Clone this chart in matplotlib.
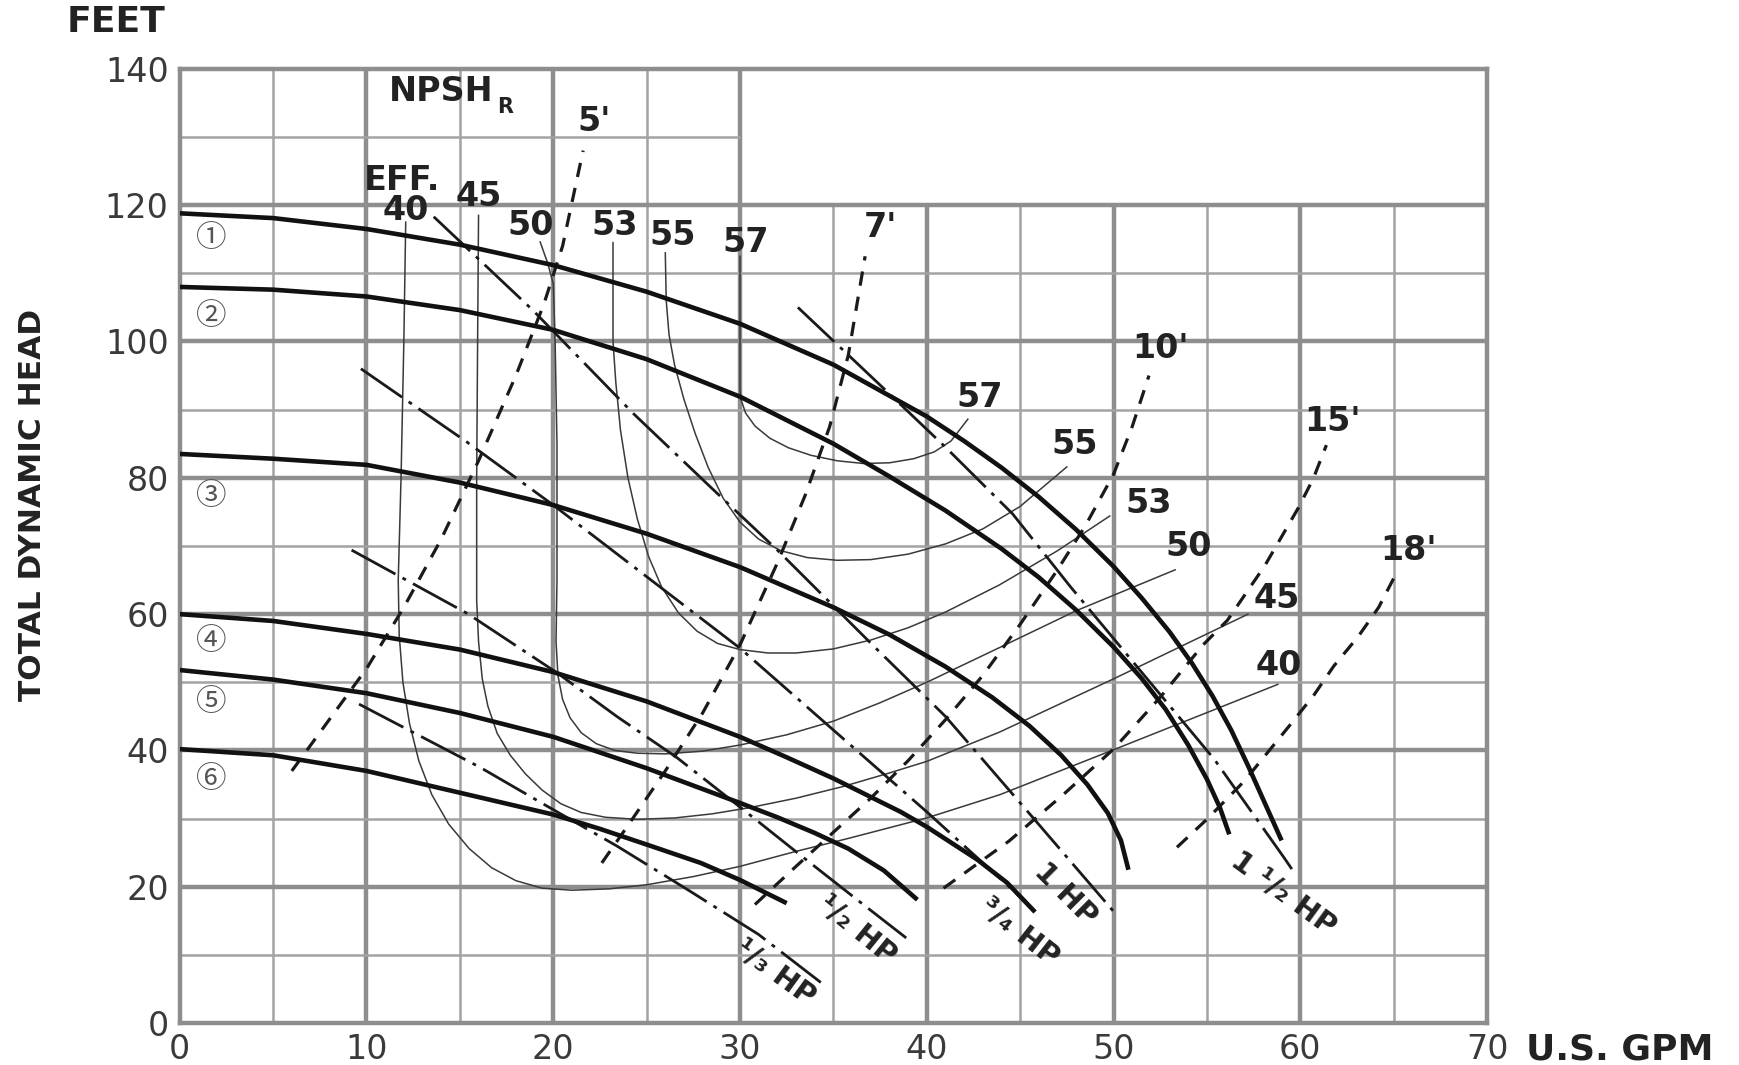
import matplotlib
matplotlib.use("Agg")
import matplotlib.pyplot as plt

plt.rcParams['font.family'] = ['DejaVu Sans', 'Noto Sans CJK JP']

# ---------------- axis data ----------------
gpm_ticks = [0, 10, 20, 30, 40, 50, 60, 70]
head_ticks = [0, 20, 40, 60, 80, 100, 120, 140]
gpm_minor = [5, 15, 25, 35, 45, 55, 65]
head_minor = [10, 30, 50, 70, 90, 110, 130]

# ---------------- head curves (impeller diameters 1..6) ----------------
head1_q = [0, 5, 10, 15, 20, 25, 30, 35, 40, 42, 44, 46, 48, 50, 51.5, 53, 54.2, 55.3, 56.3, 57.2, 58.1, 59.0]
head1_h = [118.8, 118.1, 116.5, 114.2, 111.2, 107.3, 102.6, 96.6, 89.0, 85.4, 81.5, 77.2, 72.4, 67.0, 62.4, 57.4, 52.8, 48.0, 43.0, 37.8, 32.3, 26.8]

head2_q = [0, 5, 10, 15, 20, 25, 30, 35, 38, 41, 44, 46, 48, 50, 51.5, 52.8, 54.0, 55.0, 55.7, 56.2]
head2_h = [108.0, 107.6, 106.6, 104.6, 101.7, 97.4, 91.9, 85.0, 80.2, 75.2, 69.6, 65.4, 60.6, 55.2, 50.6, 46.0, 40.8, 35.8, 31.6, 27.7]

head3_q = [0, 5, 10, 15, 20, 25, 30, 35, 38, 41, 43.5, 45.5, 47.2, 48.6, 49.7, 50.4, 50.8]
head3_h = [83.5, 82.8, 81.9, 79.3, 76.0, 71.8, 66.9, 61.0, 57.0, 52.3, 47.8, 43.6, 39.3, 35.0, 30.8, 26.8, 22.5]

head4_q = [0, 5, 10, 15, 20, 25, 30, 32.5, 35, 38.6, 40, 42.7, 44.3, 45.8]
head4_h = [60.0, 59.0, 57.1, 54.8, 51.5, 47.2, 42.0, 39.0, 35.9, 31.0, 28.8, 24.0, 20.6, 16.3]

head5_q = [0, 5, 10, 15, 20, 25, 30, 32, 34, 35.8, 37.7, 39.5]
head5_h = [51.8, 50.4, 48.4, 45.5, 42.0, 37.4, 32.3, 30.2, 27.9, 25.6, 22.4, 18.1]

head6_q = [0, 5, 10, 15, 20, 22.5, 25, 27.9, 30, 32.5]
head6_h = [40.2, 39.3, 37.0, 33.8, 30.6, 28.5, 26.2, 23.5, 21.0, 17.6]

# ---------------- efficiency contours (%) ----------------
eff40_q = [12.1, 12.0, 11.85, 11.7, 11.75, 11.95, 12.3, 12.8, 13.5, 14.4, 15.5, 16.7, 18.0, 19.4, 21.0, 23.0, 25.0, 27.5, 30.0, 33.0, 35.8, 40.0, 43.9, 50.0, 58.8]
eff40_h = [117.5, 100.0, 80.0, 65.0, 57.0, 50.0, 44.0, 38.5, 33.5, 29.2, 25.6, 22.8, 20.9, 19.8, 19.5, 19.7, 20.3, 21.5, 23.0, 25.2, 27.1, 30.1, 33.5, 40.1, 49.7]

eff45_q = [16.0, 15.95, 15.9, 15.9, 16.0, 16.2, 16.5, 17.0, 17.7, 18.5, 19.4, 20.4, 21.5, 22.8, 24.5, 26.5, 28.5, 30.5, 33.0, 35.5, 38.0, 40.0, 43.9, 50.0, 57.2]
eff45_h = [118.5, 100.0, 80.0, 62.0, 56.0, 50.5, 46.5, 42.5, 39.3, 36.6, 34.2, 32.2, 30.9, 30.2, 29.9, 30.1, 30.7, 31.6, 33.0, 34.7, 36.7, 38.4, 42.7, 50.5, 60.0]

eff50_q = [19.3, 19.7, 20.0, 20.1, 20.2, 20.2, 20.15, 20.25, 20.5, 20.9, 21.5, 22.3, 23.3, 24.5, 26.0, 28.0, 30.0, 32.5, 35.0, 37.5, 40.0, 43.9, 48.0, 53.3]
eff50_h = [114.6, 111.5, 108.5, 100.0, 85.0, 65.0, 56.0, 51.0, 47.5, 44.8, 42.6, 41.0, 40.0, 39.6, 39.5, 39.9, 40.8, 42.3, 44.3, 47.0, 50.0, 55.1, 60.5, 66.5]

eff53_q = [23.2, 23.2, 23.35, 23.6, 24.0, 24.5, 25.1, 25.8, 26.7, 27.7, 28.8, 30.0, 31.5, 33.0, 35.0, 37.0, 39.0, 41.0, 43.9, 47.0, 49.8]
eff53_h = [114.5, 100.0, 94.0, 87.0, 80.0, 74.0, 68.5, 64.0, 60.2, 57.5, 55.7, 54.8, 54.3, 54.3, 54.9, 56.2, 58.0, 60.3, 64.3, 69.3, 74.4]

eff55_q = [26.0, 26.05, 26.2, 26.5, 27.0, 27.6, 28.3, 29.1, 30.0, 31.0, 32.2, 33.6, 35.2, 37.0, 39.0, 41.0, 43.0, 45.0, 47.5]
eff55_h = [113.0, 106.0, 101.0, 96.5, 91.5, 86.5, 81.5, 77.0, 73.5, 71.0, 69.3, 68.3, 67.9, 68.0, 68.8, 70.3, 72.5, 75.8, 81.6]

eff57_q = [30.0, 30.0, 30.0, 30.05, 30.3, 30.8, 31.6, 32.6, 33.8, 35.2, 36.6, 38.0, 39.3, 40.4, 41.3, 42.2]
eff57_h = [112.5, 100.0, 93.0, 91.5, 89.5, 87.6, 85.8, 84.4, 83.3, 82.5, 82.1, 82.2, 82.8, 83.8, 85.4, 88.6]

# ---------------- horsepower lines ----------------
hp13_q = [9.6, 16.1, 19.5, 23.4, 27.3, 31.0, 34.5]
hp13_h = [46.8, 37.5, 32.1, 26.0, 19.4, 13.0, 5.6]

hp12_q = [9.2, 15.4, 20.2, 23.4, 26.6, 30.0, 33.3, 36.6, 38.9]
hp12_h = [69.4, 60.1, 51.4, 45.0, 39.0, 31.7, 24.5, 17.4, 12.5]

hp34_q = [9.7, 15.4, 20.0, 25.0, 30.0, 35.0, 40.0, 45.3]
hp34_h = [96.0, 85.2, 76.0, 65.5, 55.0, 43.0, 31.0, 17.8]

hp1_q = [13.6, 18.9, 24.3, 28.4, 32.0, 37.2, 41.0, 45.7, 50.0]
hp1_h = [118.3, 104.6, 89.4, 78.7, 69.4, 55.2, 45.0, 30.1, 16.4]

hp15_q = [33.1, 38.2, 41.0, 44.6, 47.7, 51.5, 55.4, 59.1, 59.7]
hp15_h = [105.0, 91.8, 84.5, 74.7, 64.0, 51.5, 38.7, 24.4, 22.0]

# ---------------- NPSHr lines (ft) ----------------
npsh5_q = [6.0, 8.0, 10.0, 12.0, 14.0, 16.0, 18.0, 19.5, 20.5, 21.6]
npsh5_h = [37.0, 44.5, 52.0, 61.0, 71.0, 82.5, 95.0, 105.5, 114.0, 128.0]

npsh7_q = [22.6, 24.0, 26.0, 28.0, 30.0, 32.0, 33.5, 34.8, 35.8, 36.7]
npsh7_h = [23.5, 29.0, 37.0, 45.5, 55.5, 67.5, 77.5, 87.5, 98.0, 112.5]

npsh10_q = [30.8, 33.0, 35.0, 37.0, 39.0, 41.0, 43.0, 45.0, 47.0, 48.5, 50.0, 51.0, 51.9]
npsh10_h = [17.4, 23.0, 28.0, 33.0, 38.5, 44.5, 51.0, 58.5, 66.5, 73.0, 80.5, 87.5, 95.0]

npsh15_q = [40.9, 44.4, 47.3, 50.0, 52.5, 54.8, 56.1, 58.1, 59.9, 60.7, 61.4]
npsh15_h = [19.8, 26.7, 33.5, 40.2, 47.8, 55.5, 59.1, 67.1, 75.6, 79.9, 84.8]

npsh18_q = [53.4, 55.0, 57.0, 58.4, 59.5, 60.75, 61.8, 63.1, 64.2, 65.05]
npsh18_h = [25.8, 29.9, 35.5, 40.2, 43.9, 48.2, 52.4, 56.7, 61.0, 65.5]

# ---------------- figure ----------------
fig = plt.figure(figsize=(17.4, 10.65), dpi=100)
ax = fig.add_axes([0.1033, 0.0393, 0.7513, 0.8961])
ax.set_xlim(gpm_ticks[0], gpm_ticks[-1])
ax.set_ylim(head_ticks[0], head_ticks[-1])

major_c = '#8e8e8e'
minor_c = '#a3a3a3'
for x in gpm_ticks[1:-1]:
    top = 140 if x <= 30 else 120
    ax.plot([x, x], [0, top], color=major_c, lw=3.2, zorder=1, solid_capstyle='butt')
for x in gpm_minor:
    top = 140 if x < 30 else 120
    ax.plot([x, x], [0, top], color=minor_c, lw=1.8, zorder=1, solid_capstyle='butt')
for y in head_ticks[1:-1]:
    ax.plot([0, 70], [y, y], color=major_c, lw=3.2, zorder=1, solid_capstyle='butt')
for y in head_minor:
    right = 30 if y > 120 else 70
    ax.plot([0, right], [y, y], color=minor_c, lw=1.8, zorder=1, solid_capstyle='butt')

for s in ax.spines.values():
    s.set_color(major_c)
    s.set_linewidth(3.2)

ax.set_xticks(gpm_ticks)
ax.set_yticks(head_ticks)
ax.set_xticklabels([str(v) for v in gpm_ticks])
ax.set_yticklabels([str(v) for v in head_ticks])
ax.tick_params(length=0, labelsize=24, colors='#3a3a3a')
ax.tick_params(axis='x', pad=7)
ax.tick_params(axis='y', pad=8)

# efficiency contours
for q, h in [(eff40_q, eff40_h), (eff45_q, eff45_h), (eff50_q, eff50_h),
             (eff53_q, eff53_h), (eff55_q, eff55_h), (eff57_q, eff57_h)]:
    ax.plot(q, h, color='#3a3a3a', lw=1.1, zorder=2, solid_joinstyle='round')

# horsepower lines
for q, h in [(hp13_q, hp13_h), (hp12_q, hp12_h), (hp34_q, hp34_h),
             (hp1_q, hp1_h), (hp15_q, hp15_h)]:
    ax.plot(q, h, color='#1a1a1a', lw=2.0, zorder=3,
            linestyle=(0, (18, 2.9, 1.4, 2.9)))

# NPSH lines
for q, h in [(npsh5_q, npsh5_h), (npsh7_q, npsh7_h), (npsh10_q, npsh10_h),
             (npsh15_q, npsh15_h), (npsh18_q, npsh18_h)]:
    ax.plot(q, h, color='#1a1a1a', lw=2.3, zorder=3, linestyle=(0, (4.5, 3.5)))

# head curves
for q, h in [(head1_q, head1_h), (head2_q, head2_h), (head3_q, head3_h),
             (head4_q, head4_h), (head5_q, head5_h), (head6_q, head6_h)]:
    ax.plot(q, h, color='#111111', lw=3.3, zorder=4, solid_capstyle='butt',
            solid_joinstyle='round')

# ---------------- text ----------------
lab = dict(fontsize=24, fontweight='bold', color='#222222', ha='center', va='center', zorder=6)

circ = ['①', '②', '③', '④', '⑤', '⑥']
circ_y = [115.1, 103.7, 77.3, 56.0, 47.0, 35.8]
for c, yv in zip(circ, circ_y):
    ax.text(1.7, yv, c, fontsize=22, color='#555555', ha='center', va='center',
            zorder=6, family=['Noto Sans CJK JP', 'DejaVu Sans'])

ax.text(11.9, 123.6, 'EFF.', **lab)
for txt, xq, yh in [('40', 12.1, 119.2), ('45', 16.0, 121.2), ('50', 18.8, 117.0),
                    ('53', 23.3, 117.0), ('55', 26.4, 115.5), ('57', 30.3, 114.5),
                    ('57', 42.85, 91.8), ('55', 47.9, 84.9), ('53', 51.9, 76.3),
                    ('50', 54.0, 69.9), ('45', 58.75, 62.3), ('40', 58.85, 52.5)]:
    ax.text(xq, yh, txt, **lab)

ax.text(14.0, 136.6, 'NPSH', **lab)
ax.text(17.45, 134.4, 'R', fontsize=15, fontweight='bold', color='#222222',
        ha='center', va='center', zorder=6)
for txt, xq, yh in [("5'", 22.2, 132.2), ("7'", 37.5, 116.7), ("10'", 52.5, 98.9),
                    ("15'", 61.7, 88.3), ("18'", 65.8, 69.4)]:
    ax.text(xq, yh, txt, **lab)

hp_lab = dict(fontsize=21, fontweight='bold', color='#222222', ha='center', va='center', zorder=6)
ax.text(31.9, 7.4, '¹/₃ HP', rotation=-36, **hp_lab)
ax.text(36.3, 13.7, '¹/₂ HP', rotation=-39, **hp_lab)
ax.text(44.95, 13.3, '³/₄ HP', rotation=-38, **hp_lab)
ax.text(47.45, 18.9, '1 HP', rotation=-45, **hp_lab)
ax.text(59.1, 19.0, '1 ¹/₂ HP', rotation=-36, **hp_lab)

ax.text(-3.4, 146.8, 'FEET', fontsize=26, fontweight='bold', color='#222222',
        ha='center', va='center', clip_on=False)
ax.text(72.1, -3.8, 'U.S. GPM', fontsize=26, fontweight='bold', color='#222222',
        ha='left', va='center', clip_on=False)
ax.text(-7.9, 76.0, 'TOTAL DYNAMIC HEAD', fontsize=22.5, fontweight='bold', color='#222222',
        ha='center', va='center', rotation=90, clip_on=False)

fig.savefig('out.png', dpi=100)
